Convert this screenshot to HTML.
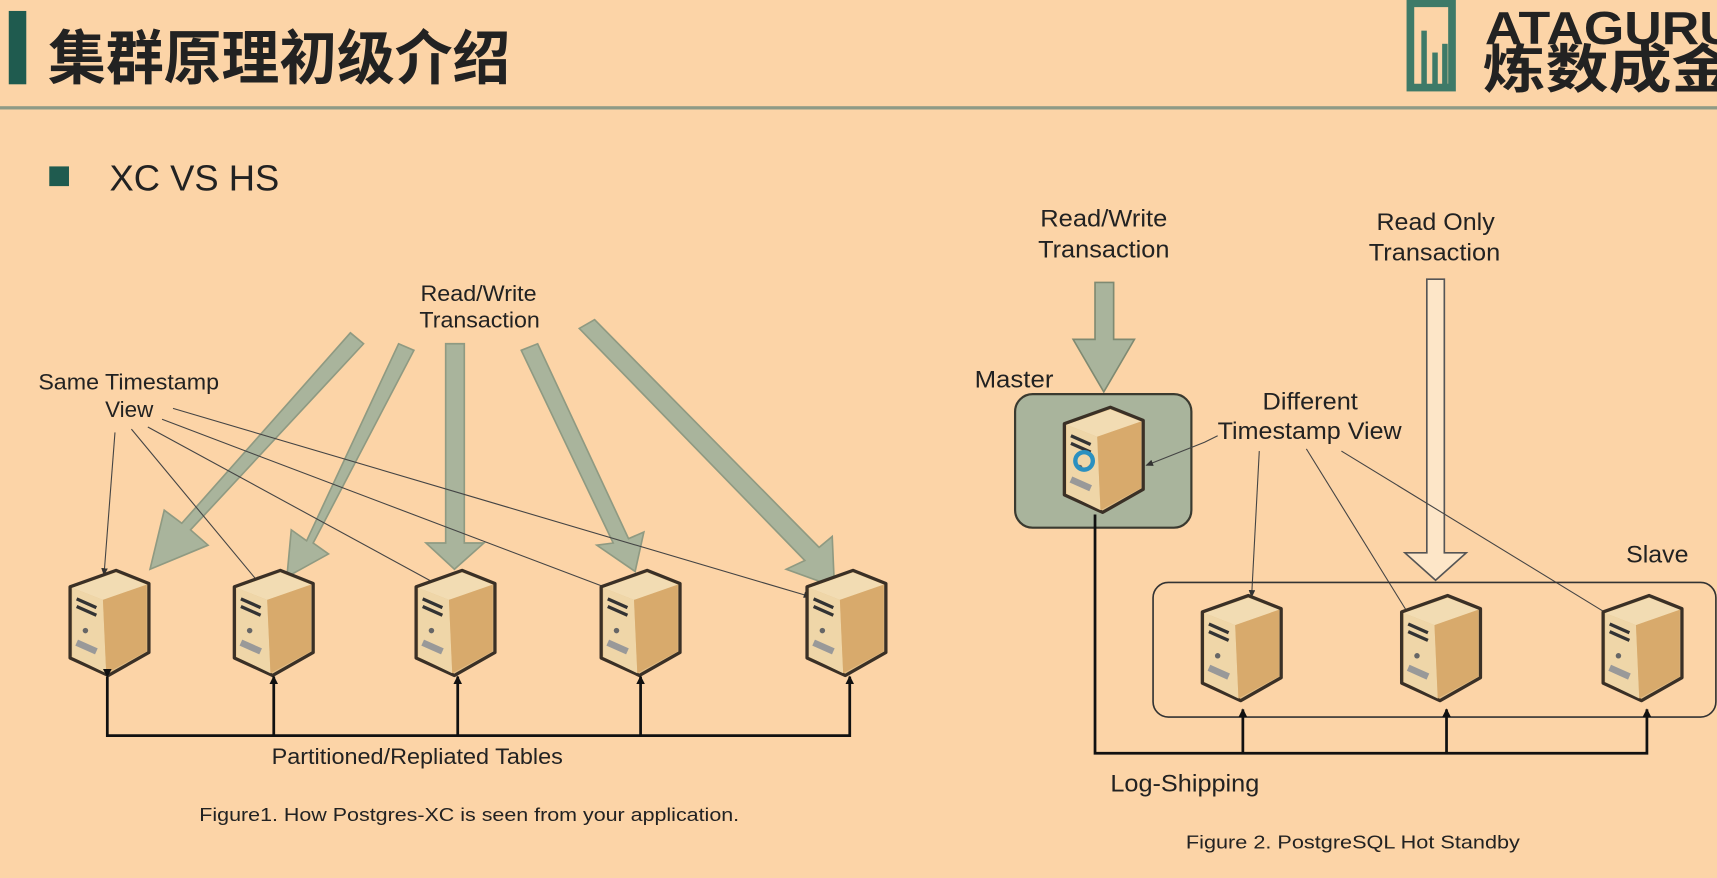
<!DOCTYPE html>
<html><head><meta charset="utf-8"><style>
html,body{margin:0;padding:0;background:#fcd4a7;}
svg{display:block}
text{font-family:"Liberation Sans","Noto Sans CJK SC",sans-serif;fill:#222}
</style></head><body>
<svg width="1717" height="878" viewBox="0 0 1568 802" preserveAspectRatio="none" xmlns="http://www.w3.org/2000/svg">
<defs>
<marker id="ah" markerWidth="8" markerHeight="8" refX="7" refY="4" orient="auto" markerUnits="userSpaceOnUse"><path d="M0,0 L8,4 L0,8 z" fill="#111"/></marker>
<marker id="ahs" markerWidth="7" markerHeight="6" refX="6" refY="3" orient="auto" markerUnits="userSpaceOnUse"><path d="M0,0 L7,3 L0,6 z" fill="#333"/></marker>
<g id="srv">
<polygon points="0,15 42,0 72,12 72,75 35,96 0,80" fill="#e3bf88" stroke="#3a3026" stroke-width="3" stroke-linejoin="round"/>
<polygon points="2,16 42,2 70,13 30,27" fill="#f2dcb3"/>
<polygon points="2,16 30,27 33,94 2,79" fill="#efd6a8"/>
<polygon points="30,27 70,13 70,74 33,94" fill="#d8aa6c"/>
<line x1="6" y1="26" x2="24" y2="34" stroke="#333" stroke-width="3"/>
<line x1="6" y1="33" x2="24" y2="41" stroke="#333" stroke-width="3"/>
<circle cx="14" cy="55" r="2.5" fill="#666"/>
<line x1="6" y1="66" x2="24" y2="74" stroke="#999" stroke-width="6"/>
</g>
</defs>

<rect x="8" y="10" width="16" height="67" fill="#1f5b4f"/>
<text x="44" y="72" font-size="54" font-weight="bold" textLength="422" lengthAdjust="spacingAndGlyphs" style="font-family:'Noto Sans CJK SC','WenQuanYi Zen Hei',sans-serif">集群原理初级介绍</text>
<rect x="0" y="97" width="1568" height="3" fill="#8e9a86"/>
<rect x="1288" y="3" width="38" height="77" fill="none" stroke="#3e7a68" stroke-width="7"/>
<rect x="1298" y="28" width="5" height="50" fill="#3e7a68"/>
<rect x="1308" y="48" width="5" height="30" fill="#3e7a68"/>
<rect x="1317" y="40" width="5" height="38" fill="#3e7a68"/>
<text x="1356" y="40" font-size="42" font-weight="bold" textLength="230" lengthAdjust="spacingAndGlyphs">ATAGURU</text>
<text x="1354" y="80" font-size="48" font-weight="bold" textLength="230" lengthAdjust="spacingAndGlyphs" style="font-family:'Noto Sans CJK SC',sans-serif">炼数成金</text>

<rect x="45" y="152" width="18" height="18" fill="#1f5b4f"/>
<text x="100" y="174" font-size="33" textLength="155" lengthAdjust="spacingAndGlyphs">XC VS HS</text>

<g fill="#a9b49c" stroke="#8f9a82" stroke-width="1.5">
<polygon points="320,304 332,314 174,484 190,498 137,520 150,466 166,478"/>
<polygon points="364,314 378,320 286,496 300,506 262,527 266,484 280,494"/>
<polygon points="407,314 424,314 424,496 442,496 415,520 389,496 407,496"/>
<polygon points="476,320 491,314 574,492 588,486 580,522 545,498 560,496"/>
<polygon points="529,300 543,292 748,500 760,490 762,536 718,520 735,512"/>
</g>
<g stroke="#444" stroke-width="1" fill="none" marker-end="url(#ahs)">
<line x1="105" y1="395" x2="95" y2="525"/>
<line x1="120" y1="392" x2="237" y2="533"/>
<line x1="135" y1="390" x2="405" y2="537"/>
<line x1="148" y1="383" x2="562" y2="540"/>
<line x1="158" y1="373" x2="740" y2="545"/>
</g>
<use href="#srv" x="64" y="521"/>
<use href="#srv" x="214" y="521"/>
<use href="#srv" x="380" y="521"/>
<use href="#srv" x="549" y="521"/>
<use href="#srv" x="737" y="521"/>
<g stroke="#111" stroke-width="2.5" fill="none">
<polyline points="98,618 98,672 776,672 776,618" marker-start="url(#ah)" marker-end="url(#ah)"/>
<line x1="250" y1="672" x2="250" y2="618" marker-end="url(#ah)"/>
<line x1="418" y1="672" x2="418" y2="618" marker-end="url(#ah)"/>
<line x1="585" y1="672" x2="585" y2="618" marker-end="url(#ah)"/>
</g>
<g font-size="20">
<text x="384" y="275" textLength="106" lengthAdjust="spacingAndGlyphs">Read/Write</text>
<text x="383" y="299" textLength="110" lengthAdjust="spacingAndGlyphs">Transaction</text>
<text x="35" y="356" textLength="165" lengthAdjust="spacingAndGlyphs">Same Timestamp</text>
<text x="96" y="381" textLength="44" lengthAdjust="spacingAndGlyphs">View</text>
<text x="248" y="698" textLength="266" lengthAdjust="spacingAndGlyphs">Partitioned/Repliated Tables</text>
</g>
<text x="182" y="750" font-size="17" textLength="493" lengthAdjust="spacingAndGlyphs">Figure1. How Postgres-XC is seen from your application.</text>

<g font-size="22">
<text x="950" y="207" textLength="116" lengthAdjust="spacingAndGlyphs">Read/Write</text>
<text x="948" y="235" textLength="120" lengthAdjust="spacingAndGlyphs">Transaction</text>
<text x="1257" y="210" textLength="108" lengthAdjust="spacingAndGlyphs">Read Only</text>
<text x="1250" y="238" textLength="120" lengthAdjust="spacingAndGlyphs">Transaction</text>
<text x="890" y="354" textLength="72" lengthAdjust="spacingAndGlyphs">Master</text>
<text x="1153" y="374" textLength="87" lengthAdjust="spacingAndGlyphs">Different</text>
<text x="1112" y="401" textLength="168" lengthAdjust="spacingAndGlyphs">Timestamp View</text>
<text x="1485" y="514" textLength="57" lengthAdjust="spacingAndGlyphs">Slave</text>
<text x="1014" y="723" textLength="136" lengthAdjust="spacingAndGlyphs">Log-Shipping</text>
</g>
<polygon points="1000,258 1017,258 1017,310 1036,310 1008,358 980,310 1000,310" fill="#a9b49c" stroke="#7f8a72" stroke-width="1.5"/>
<rect x="927" y="360" width="161" height="122" rx="16" fill="#a9b49c" stroke="#3a3a30" stroke-width="2"/>
<use href="#srv" x="972" y="372"/>
<circle cx="990" cy="421" r="8" fill="none" stroke="#2a90c0" stroke-width="4"/>
<polygon points="1303,255 1319,255 1319,505 1339,505 1311,530 1283,505 1303,505" fill="#fde6c8" stroke="#555" stroke-width="1.5"/>
<g stroke="#444" stroke-width="1" fill="none" marker-end="url(#ahs)">
<polyline points="1112,398 1100,404 1047,425"/>
<line x1="1150" y1="412" x2="1143" y2="545"/>
<line x1="1193" y1="410" x2="1287" y2="562"/>
<line x1="1225" y1="412" x2="1475" y2="565"/>
</g>
<rect x="1053" y="532" width="514" height="123" rx="14" fill="none" stroke="#333" stroke-width="1.5"/>
<use href="#srv" x="1098" y="544"/>
<use href="#srv" x="1280" y="544"/>
<use href="#srv" x="1464" y="544"/>
<g stroke="#111" stroke-width="2.5" fill="none">
<polyline points="1000,470 1000,688 1504,688 1504,648" marker-end="url(#ah)"/>
<line x1="1135" y1="688" x2="1135" y2="648" marker-end="url(#ah)"/>
<line x1="1321" y1="688" x2="1321" y2="648" marker-end="url(#ah)"/>
</g>
<text x="1083" y="775" font-size="17" textLength="305" lengthAdjust="spacingAndGlyphs">Figure 2. PostgreSQL Hot Standby</text>
</svg>
</body></html>
